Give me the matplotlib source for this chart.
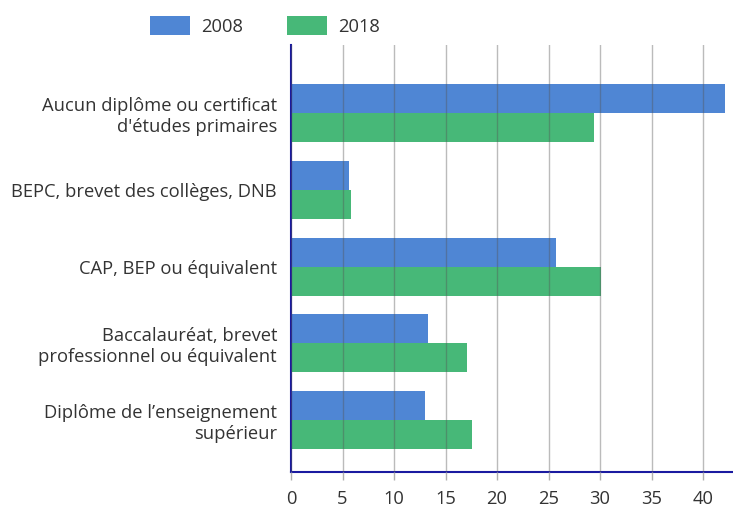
import matplotlib.pyplot as plt
import numpy as np

categories = ["Aucun diplôme ou certificat\nd'études primaires",
              "BEPC, brevet des collèges, DNB",
              "CAP, BEP ou équivalent",
              "Baccalauréat, brevet\nprofessionnel ou équivalent",
              "Diplôme de l’enseignement\nsupérieur"]
vals_2008 = [42.1, 5.6, 25.7, 13.3, 13.0]
vals_2018 = [29.4, 5.8, 30.1, 17.1, 17.6]
series_labels = ["2008", "2018"]
x_ticks = [0, 5, 10, 15, 20, 25, 30, 35, 40]

plt.rcParams['font.family'] = ['Open Sans', 'DejaVu Sans']
fs = 13.2

fig = plt.figure(figsize=(7.33, 5.08), dpi=100)
ax = fig.add_axes([0.397, 0.0715, 0.603, 0.840])

y = np.arange(len(categories))
h = 0.378
b1 = ax.barh(y - h / 2, vals_2008, height=h, color='#4f86d4', label=series_labels[0], zorder=1)
b2 = ax.barh(y + h / 2, vals_2018, height=h, color='#47b878', label=series_labels[1], zorder=1)

ax.set_xlim(0, 42.9)
ax.set_ylim(len(categories) - 1 + 0.674, -0.89)
ax.set_xticks(x_ticks)
ax.set_yticks(y)
ax.set_yticklabels(categories, fontsize=fs, color='#333333', linespacing=1.2)
ax.tick_params(axis='y', length=0, pad=10)
ax.tick_params(axis='x', length=6, width=1, color='#b0b0b0', labelsize=fs,
               labelcolor='#333333', pad=7)
ax.grid(axis='x', color='#555555', alpha=0.4, linewidth=1, zorder=2)
ax.set_axisbelow(False)

for s in ['top', 'right']:
    ax.spines[s].set_visible(False)
ax.spines['left'].set_color('#1a1aa0')
ax.spines['bottom'].set_color('#1a1aa0')
ax.spines['left'].set_linewidth(1.5)
ax.spines['bottom'].set_linewidth(1.5)

fig.legend(handles=[b1, b2], labels=series_labels, loc='center',
           bbox_to_anchor=(0.3615, 0.949), ncol=2, frameon=False, fontsize=fs,
           handlelength=2.16, handleheight=1.24, handletextpad=0.6,
           columnspacing=2.4, labelcolor='#333333')

fig.savefig('out.png', dpi=100)
